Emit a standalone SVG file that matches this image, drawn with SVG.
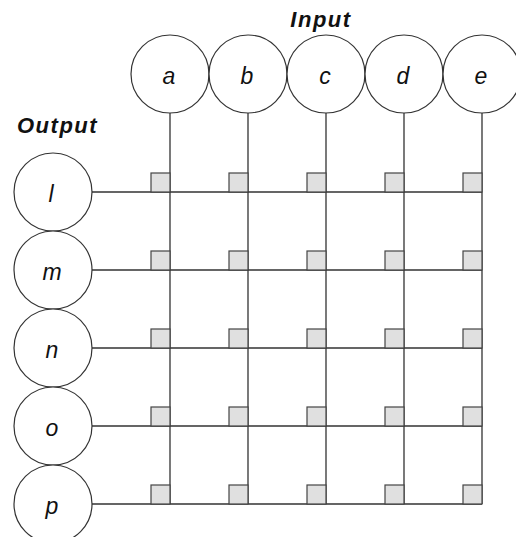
<svg xmlns="http://www.w3.org/2000/svg" width="516" height="537" viewBox="0 0 516 537">
<style>
.node{fill:#fff;stroke:#333;stroke-width:1.2}
.lbl{font-family:"Liberation Sans",Arial,sans-serif;font-style:italic;font-size:23px;fill:#111;text-anchor:middle}
.title{font-family:"Liberation Sans",Arial,sans-serif;font-style:italic;font-weight:bold;font-size:22px;fill:#111;letter-spacing:1.5px}
.wire{stroke:#333;stroke-width:1.3;fill:none}
.sw{fill:#e0e0e0;stroke:#444;stroke-width:1.2}
</style>
<rect width="516" height="537" fill="#fff"/>
<text class="title" x="321" y="27" text-anchor="middle">Input</text>
<text class="title" x="17" y="133">Output</text>
<g id="connectors">
<path class="wire" d="M170,113V504M248,113V504M326,113V504M404,113V504M482,113V504"/>
<path class="wire" d="M92,192H482M92,270H482M92,348H482M92,426H482M92,504H482"/>
</g>
<g id="switches">
<rect class="sw" x="151" y="173" width="19" height="19"/><rect class="sw" x="229" y="173" width="19" height="19"/><rect class="sw" x="307" y="173" width="19" height="19"/><rect class="sw" x="385" y="173" width="19" height="19"/><rect class="sw" x="463" y="173" width="19" height="19"/>
<rect class="sw" x="151" y="251" width="19" height="19"/><rect class="sw" x="229" y="251" width="19" height="19"/><rect class="sw" x="307" y="251" width="19" height="19"/><rect class="sw" x="385" y="251" width="19" height="19"/><rect class="sw" x="463" y="251" width="19" height="19"/>
<rect class="sw" x="151" y="329" width="19" height="19"/><rect class="sw" x="229" y="329" width="19" height="19"/><rect class="sw" x="307" y="329" width="19" height="19"/><rect class="sw" x="385" y="329" width="19" height="19"/><rect class="sw" x="463" y="329" width="19" height="19"/>
<rect class="sw" x="151" y="407" width="19" height="19"/><rect class="sw" x="229" y="407" width="19" height="19"/><rect class="sw" x="307" y="407" width="19" height="19"/><rect class="sw" x="385" y="407" width="19" height="19"/><rect class="sw" x="463" y="407" width="19" height="19"/>
<rect class="sw" x="151" y="485" width="19" height="19"/><rect class="sw" x="229" y="485" width="19" height="19"/><rect class="sw" x="307" y="485" width="19" height="19"/><rect class="sw" x="385" y="485" width="19" height="19"/><rect class="sw" x="463" y="485" width="19" height="19"/>
</g>
<g id="in-a"><circle class="node" cx="170" cy="74" r="39"/><text class="lbl" x="169" y="84">a</text></g>
<g id="in-b"><circle class="node" cx="248" cy="74" r="39"/><text class="lbl" x="247" y="84">b</text></g>
<g id="in-c"><circle class="node" cx="326" cy="74" r="39"/><text class="lbl" x="325" y="84">c</text></g>
<g id="in-d"><circle class="node" cx="404" cy="74" r="39"/><text class="lbl" x="403" y="84">d</text></g>
<g id="in-e"><circle class="node" cx="482" cy="74" r="39"/><text class="lbl" x="481" y="84">e</text></g>
<g id="out-l"><circle class="node" cx="53" cy="192" r="39"/><text class="lbl" x="51" y="202">l</text></g>
<g id="out-m"><circle class="node" cx="53" cy="270" r="39"/><text class="lbl" x="52" y="280">m</text></g>
<g id="out-n"><circle class="node" cx="53" cy="348" r="39"/><text class="lbl" x="52" y="358">n</text></g>
<g id="out-o"><circle class="node" cx="53" cy="426" r="39"/><text class="lbl" x="52" y="436">o</text></g>
<g id="out-p"><circle class="node" cx="53" cy="504" r="39"/><text class="lbl" x="52" y="514">p</text></g>
</svg>
